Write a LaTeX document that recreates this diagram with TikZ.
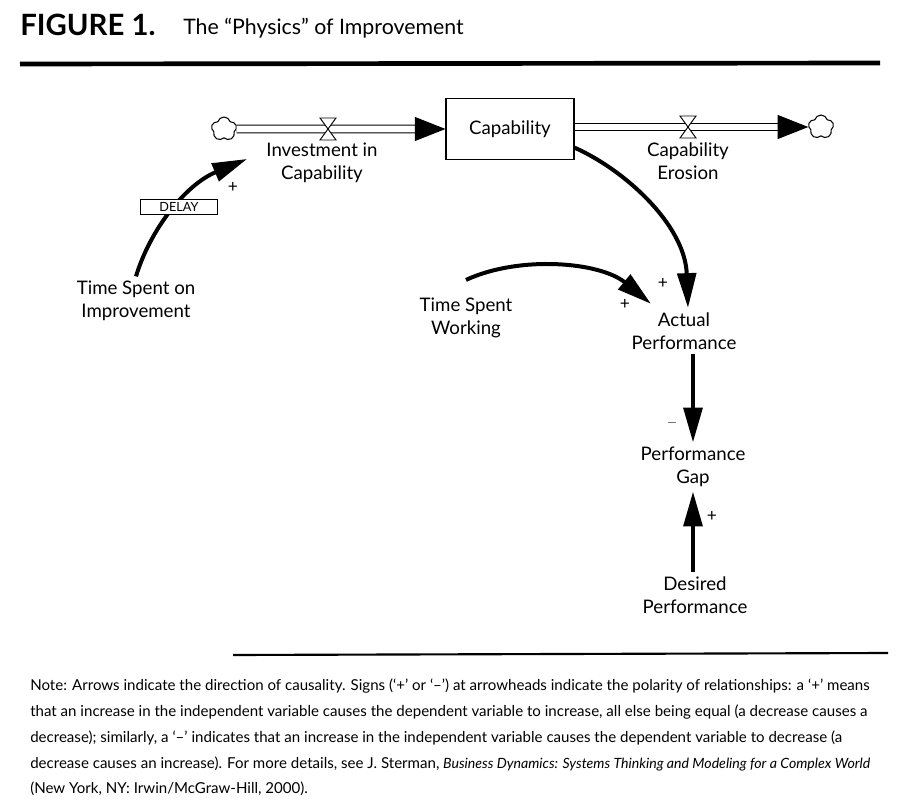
\documentclass[tikz,border=0pt]{standalone}
\usepackage{fontspec}
\setmainfont{Lato}
\usetikzlibrary{arrows.meta,shapes.symbols}
\begin{document}
\begin{tikzpicture}[x=0.75pt,y=-0.75pt,
    lbl/.style={align=center,font=\fontsize{14}{17.3}\selectfont},
    sgn/.style={font=\fontsize{13}{13}\selectfont,inner sep=1pt},
    notetxt/.style={anchor=base west,inner sep=0pt,font=\fontsize{11.3}{12}\selectfont},
    pipe/.style={double=white,double distance=5pt,line width=0.8pt},
    flowtip/.style={-{Triangle[length=23pt,width=18pt]},line width=0.8pt},
    causal/.style={line width=3pt,-{Triangle[length=26pt,width=14pt]}},
    cloudy/.style={cloud,cloud puffs=5,draw,line width=0.8pt,minimum width=19pt,minimum height=18pt,inner sep=0pt},
    valve/.style={draw,fill=white,line width=0.7pt},
    delaybox/.style={draw,fill=white,line width=0.7pt,minimum width=58pt,minimum height=11pt,inner sep=0pt,font=\fontsize{9.5}{9.5}\selectfont}]
    \useasboundingbox (0,0) rectangle (908,803);
    \node[anchor=base west,inner sep=0pt,font=\fontsize{22}{22}\selectfont\bfseries] (fig) at (20,36) {FIGURE 1.};
    \node[anchor=base west,inner sep=0pt,font=\fontsize{16}{16}\selectfont] (ttl) at (183,35) {The “Physics” of Improvement};
    \draw[line width=3.5pt] (20,64) -- (880,63);
    \node[draw,line width=0.8pt,minimum width=96pt,minimum height=46pt,lbl] (cap) at (510,129) {Capability};
    \node[cloudy] (src) at (224,129) {};
    \node[cloudy] (snk) at (821,127) {};
    \draw[pipe] (src.east) -- ([xshift=-22pt]cap.west);
    \draw[flowtip] ([xshift=-23pt]cap.west) -- (cap.west);
    \draw[pipe] (cap.east |- snk.west) -- ([xshift=-22pt]snk.west);
    \draw[flowtip] ([xshift=-23pt]snk.west) -- (snk.west);
    \coordinate (v1) at (328,129);
    \coordinate (v2) at (688,127);
    \draw[valve,shift={(v1)}] (-8,-11) -- (8,-11) -- (-8,11) -- (8,11) -- cycle;
    \draw[valve,shift={(v2)}] (-8,-11) -- (8,-11) -- (-8,11) -- (8,11) -- cycle;
    \node[lbl] (inv) at (322,163) {Investment in\\Capability};
    \node[lbl] (ero) at (688,161) {Capability\\Erosion};
    \node[lbl] (impr) at (136,301) {Time Spent on\\Improvement};
    \node[lbl] (work) at (466,318) {Time Spent\\Working};
    \node[lbl] (act) at (684,331) {Actual\\Performance};
    \node[lbl] (gap) at (693,467) {Performance\\Gap};
    \node[lbl] (des) at (695,595) {Desired\\Performance};
    \draw[causal] (impr.north) .. controls (150,230) and (185,185) .. ([xshift=-11pt,yshift=3pt]inv.west);
    \node[delaybox] (dly) at (179,207) {DELAY};
    \draw[causal] ([yshift=-14pt]cap.east) .. controls (625,170) and (685,225) .. ([xshift=3pt]act.north);
    \draw[causal] ([yshift=10pt]work.north) .. controls (520,255) and (600,262) .. ([xshift=18pt,yshift=3pt]act.north west);
    \draw[causal] (gap.north |- act.south) -- (gap.north);
    \draw[causal] (gap.south |- des.north) -- (gap.south);
    \node[sgn] (s1) at (233,187) {+};
    \node[sgn] (s2) at (663,283) {+};
    \node[sgn] (s3) at (625,304) {+};
    \node[sgn,font=\fontsize{10}{10}\selectfont] (s4) at (672,423) {$-$};
    \node[sgn] (s5) at (712,516) {+};
    \draw[line width=1.6pt] (233,655) -- (888,653);
    \node[notetxt] (n1) at (30,690) {Note: Arrows indicate the direction of causality. Signs (‘+’ or ‘–’) at arrowheads indicate the polarity of relationships: a ‘+’ means};
    \node[notetxt] (n2) at (30,716) {that an increase in the independent variable causes the dependent variable to increase, all else being equal (a decrease causes a};
    \node[notetxt] (n3) at (30,742) {decrease); similarly, a ‘–’ indicates that an increase in the independent variable causes the dependent variable to decrease (a};
    \node[notetxt] (n4) at (30,768) {decrease causes an increase). For more details, see J. Sterman, {\fontsize{10.6}{12}\selectfont\itshape Business Dynamics: Systems Thinking and Modeling for a Complex World}};
    \node[notetxt] (n5) at (30,793) {(New York, NY: Irwin/McGraw-Hill, 2000).};
\end{tikzpicture}
\end{document}
